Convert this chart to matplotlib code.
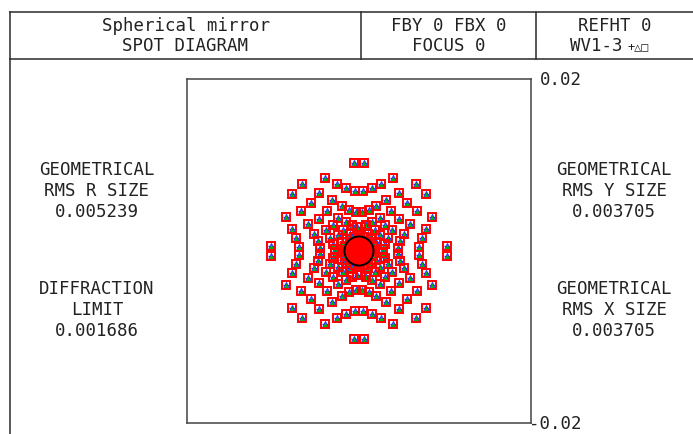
import matplotlib
matplotlib.use('Agg')
import matplotlib.pyplot as plt
import numpy as np

W, H = 693, 435

# ---- data: spot positions in the first quadrant (mm); the diagram is symmetric in x and y
qx = [0.0000042, 0.0000208, 0.0000540, 0.0001038, 0.0001702, 0.0002532, 0.0003528, 0.0004690, 0.0006018,
      0.0000623, 0.0001121, 0.0002117, 0.0003611, 0.0005603, 0.0008093, 0.0011081, 0.0014567,
      0.0002698, 0.0003528, 0.0005188, 0.0007678, 0.0010998, 0.0015148, 0.0020128, 0.0025938,
      0.0007263, 0.0008425, 0.0010749, 0.0014235, 0.0018883, 0.0024693, 0.0031665, 0.0039799,
      0.0015314, 0.0016808, 0.0019796, 0.0024278, 0.0030254, 0.0037724, 0.0046688,
      0.0027847, 0.0029673, 0.0033325, 0.0038803, 0.0046107, 0.0055237, 0.0066193,
      0.0045858, 0.0048016, 0.0052332, 0.0058806, 0.0067438, 0.0078228,
      0.0070343, 0.0072833, 0.0077813, 0.0085283,
      0.0102298]
qy = [0.0000042, 0.0000623, 0.0002698, 0.0007263, 0.0015314, 0.0027847, 0.0045858, 0.0070343, 0.0102298,
      0.0000208, 0.0001121, 0.0003528, 0.0008425, 0.0016808, 0.0029673, 0.0048016, 0.0072833,
      0.0000540, 0.0002117, 0.0005188, 0.0010749, 0.0019796, 0.0033325, 0.0052332, 0.0077813,
      0.0001038, 0.0003611, 0.0007678, 0.0014235, 0.0024278, 0.0038803, 0.0058806, 0.0085283,
      0.0001702, 0.0005603, 0.0010998, 0.0018883, 0.0030254, 0.0046107, 0.0067438,
      0.0002532, 0.0008093, 0.0015148, 0.0024693, 0.0037724, 0.0055237, 0.0078228,
      0.0003528, 0.0011081, 0.0020128, 0.0031665, 0.0046688, 0.0066193,
      0.0004690, 0.0014567, 0.0025938, 0.0039799,
      0.0006018]
quadrant_signs = [(1, 1), (-1, 1), (-1, -1), (1, -1)]

wavelengths = ["WV1", "WV2", "WV3"]
wl_markers = ['+', '^', 's']
wl_colors = ['#2020ff', '#00b400', '#ff0000']

axis_limit = 0.02
diffraction_radius = 0.001686

header_left = ["Spherical mirror", "SPOT DIAGRAM"]
header_mid = ["FBY 0 FBX 0", "FOCUS 0"]
header_right = ["REFHT 0", "WV1-3"]
header_symbols = "+\u25b3\u25a1"
left_labels = ["GEOMETRICAL", "RMS R SIZE", "0.005239", "DIFFRACTION", "LIMIT", "0.001686"]
right_labels = ["GEOMETRICAL", "RMS Y SIZE", "0.003705", "GEOMETRICAL", "RMS X SIZE", "0.003705"]
scale_labels = ["0.02", "-0.02"]

# ---- build the full symmetric point set
xs = np.concatenate([sx * np.array(qx) for sx, sy in quadrant_signs])
ys = np.concatenate([sy * np.array(qy) for sx, sy in quadrant_signs])

fig = plt.figure(figsize=(W / 100, H / 100), dpi=100)
fig.patch.set_facecolor('white')

# background layer in pixel coordinates
ax0 = fig.add_axes([0, 0, 1, 1])
ax0.set_xlim(0, W)
ax0.set_ylim(H, 0)
ax0.axis('off')

lc = '#2a2a2a'
lw = 1.1
ax0.plot([10, W], [13, 13], color=lc, lw=lw)
ax0.plot([10, W], [60, 60], color=lc, lw=lw)
ax0.plot([10, 10], [13, H], color=lc, lw=lw)
ax0.plot([361, 361], [13, 60], color=lc, lw=lw)
ax0.plot([536, 536], [13, 60], color=lc, lw=lw)

fam = ['DejaVu Sans Mono', 'DejaVu Sans']
fs = 12.5
tc = '#222222'
ax0.text(185.5, 26, header_left[0], ha='center', va='center', fontsize=fs, family=fam, color=tc)
ax0.text(185.5, 46, header_left[1], ha='center', va='center', fontsize=fs, family=fam, color=tc)
ax0.text(448.5, 26, header_mid[0], ha='center', va='center', fontsize=fs, family=fam, color=tc)
ax0.text(448.5, 46, header_mid[1], ha='center', va='center', fontsize=fs, family=fam, color=tc)
ax0.text(614.5, 26, header_right[0], ha='center', va='center', fontsize=fs, family=fam, color=tc)
ax0.text(622, 46, header_right[1], ha='right', va='center', fontsize=fs, family=fam, color=tc)
ax0.text(627, 47, header_symbols, ha='left', va='center', fontsize=8.5, family=fam, color=tc)

for i, t in enumerate(left_labels):
    yy = [170, 191, 212, 289, 310, 331][i]
    ax0.text(97, yy, t, ha='center', va='center', fontsize=fs, family=fam, color=tc)
for i, t in enumerate(right_labels):
    yy = [170, 191, 212, 289, 310, 331][i]
    ax0.text(614, yy, t, ha='center', va='center', fontsize=fs, family=fam, color=tc)

ax0.text(582, 80, scale_labels[0], ha='right', va='center', fontsize=fs, family=fam, color=tc)
ax0.text(582, 424, scale_labels[1], ha='right', va='center', fontsize=fs, family=fam, color=tc)

# spot diagram axes
left, right, top, bottom = 187, 531, 80, 424
ax = fig.add_axes([left / W, (H - bottom) / H, (right - left) / W, (bottom - top) / H])
ax.set_xlim(-axis_limit, axis_limit)
ax.set_ylim(-axis_limit, axis_limit)
ax.set_xticks([])
ax.set_yticks([])
for s in ax.spines.values():
    s.set_color('#444444')
    s.set_linewidth(1.1)
ax.patch.set_alpha(0)

ax.plot(xs, ys, linestyle='none', marker=wl_markers[0], ms=4.5, mew=1.0,
        color=wl_colors[0], zorder=2, label=wavelengths[0])
ax.plot(xs, ys, linestyle='none', marker=wl_markers[1], ms=4.0, mew=0.6,
        mfc=wl_colors[1], mec='#3030ff', zorder=3, label=wavelengths[1])
ax.plot(xs, ys, linestyle='none', marker=wl_markers[2], ms=6.0, mew=1.4,
        mfc='none', mec=wl_colors[2], zorder=4, label=wavelengths[2])

circ = plt.Circle((0, 0), diffraction_radius, fill=False, color='black', lw=1.4, zorder=6)
ax.add_patch(circ)

fig.savefig('out.png', dpi=100, facecolor='white')
